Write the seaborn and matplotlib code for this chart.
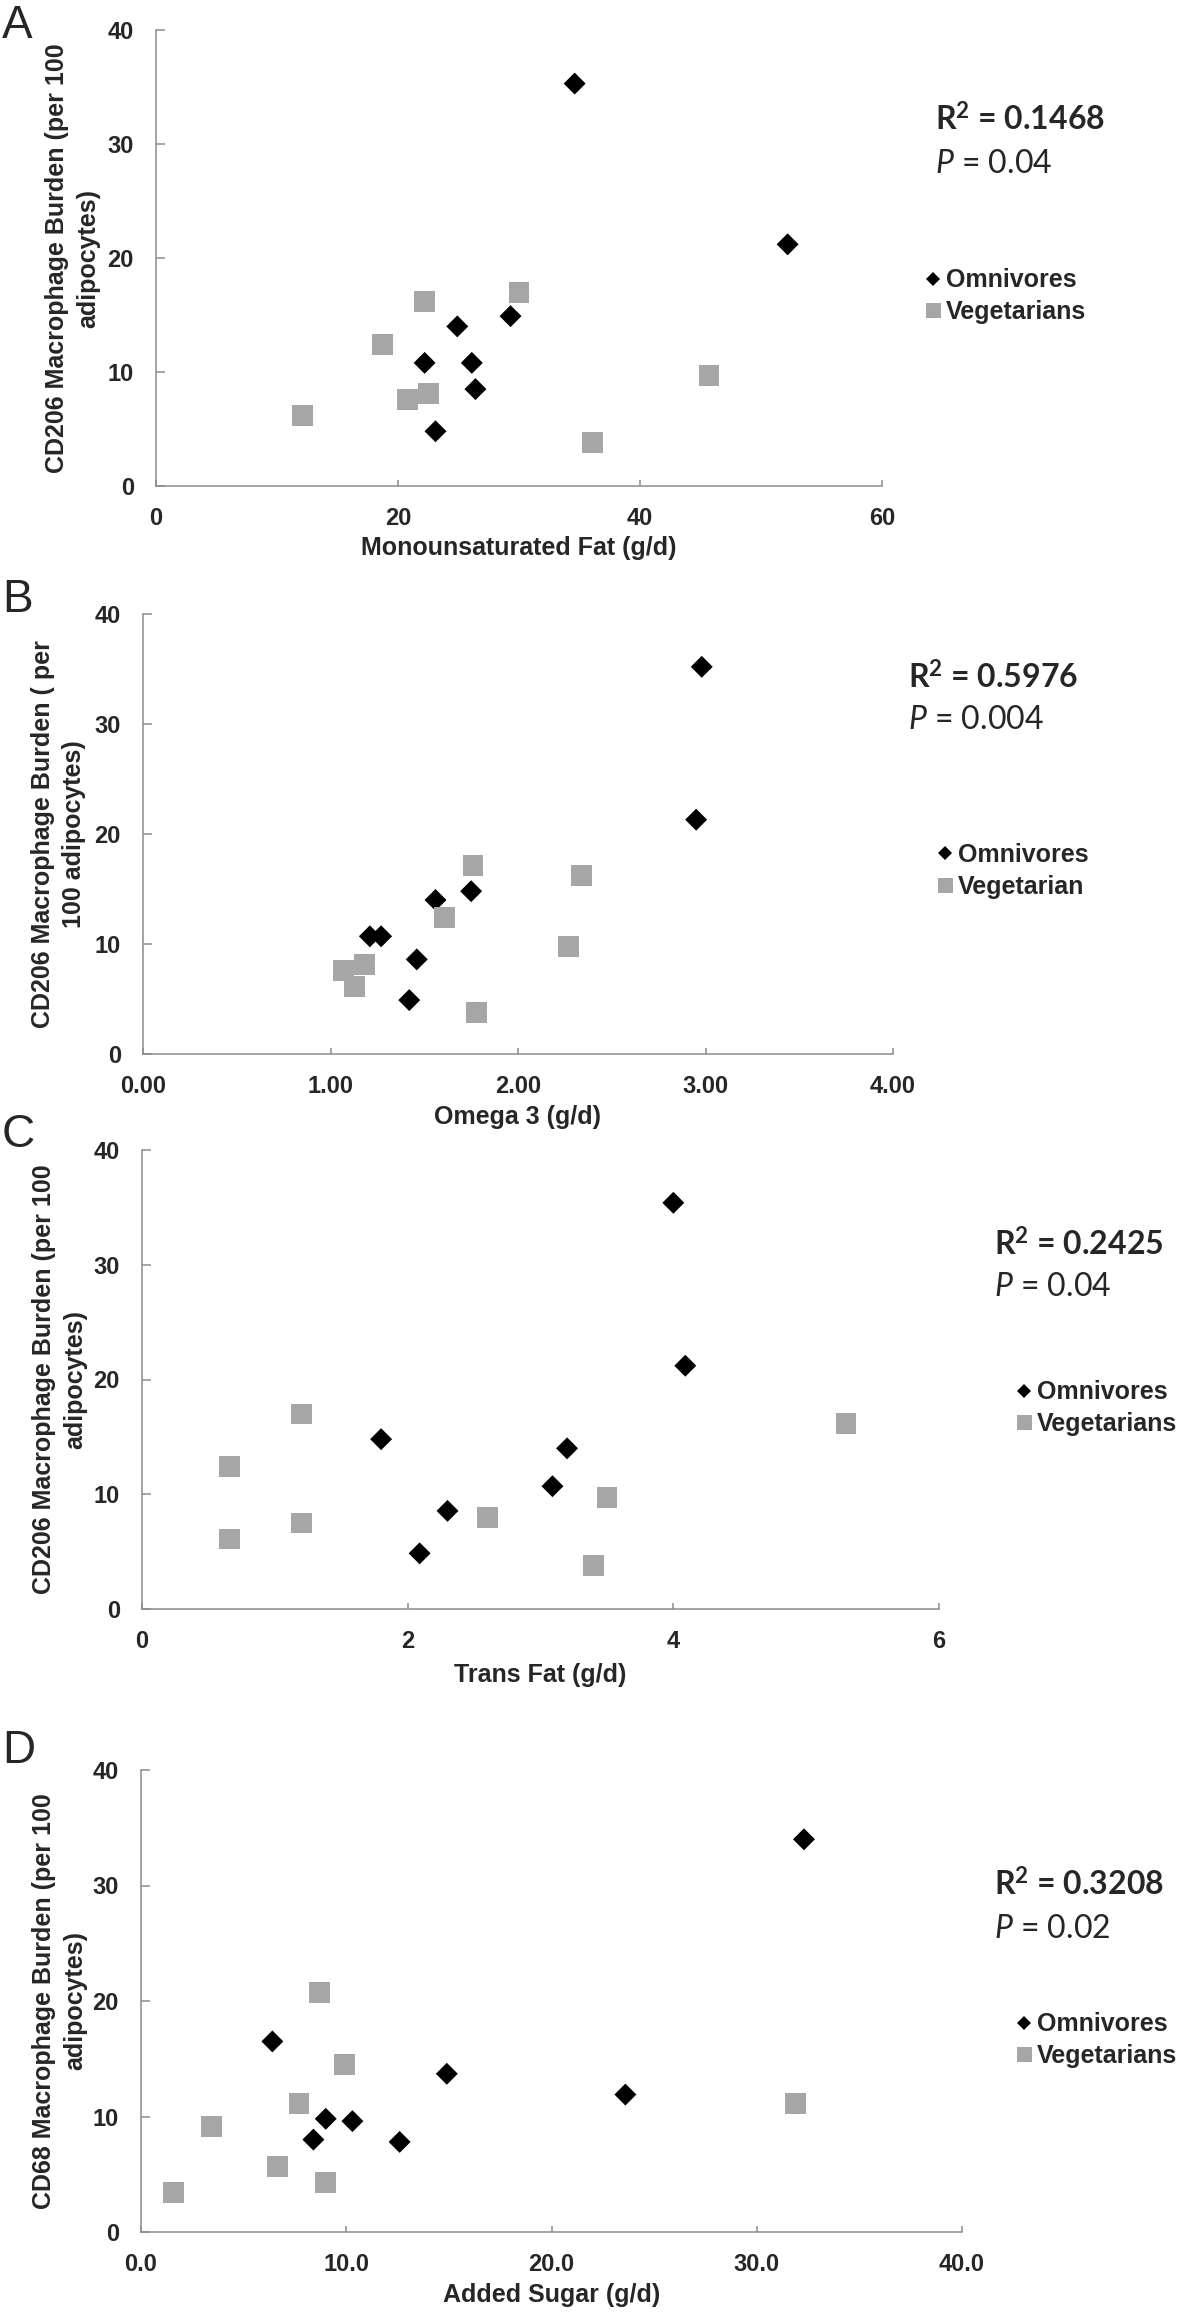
import matplotlib
matplotlib.use("Agg")
import matplotlib.pyplot as plt
import numpy as np
import pandas as pd
import seaborn as sns
from matplotlib.lines import Line2D
from matplotlib.ticker import FormatStrFormatter

# ---------------- data ----------------
groups = ["Omnivores", "Vegetarians"]

# A: Monounsaturated fat vs CD206
mufa_omni_x = [34.6, 52.2, 29.3, 24.9, 22.2, 26.1, 26.4, 23.1]
mufa_omni_y = [35.3, 21.2, 14.9, 14.0, 10.8, 10.8, 8.5, 4.8]
mufa_veg_x = [30.0, 22.2, 18.7, 45.7, 22.5, 20.8, 12.1, 36.1]
mufa_veg_y = [17.0, 16.2, 12.4, 9.7, 8.1, 7.6, 6.2, 3.8]

# B: Omega 3 vs CD206
om3_omni_x = [2.98, 2.95, 1.75, 1.56, 1.21, 1.27, 1.46, 1.42]
om3_omni_y = [35.2, 21.3, 14.8, 14.0, 10.7, 10.7, 8.6, 4.9]
om3_veg_x = [1.76, 2.34, 1.61, 2.27, 1.18, 1.07, 1.13, 1.78]
om3_veg_y = [17.1, 16.2, 12.4, 9.75, 8.1, 7.6, 6.1, 3.8]

# C: Trans fat vs CD206
trans_omni_x = [4.00, 4.09, 1.80, 3.20, 3.09, 2.30, 2.09]
trans_omni_y = [35.4, 21.2, 14.8, 14.0, 10.7, 8.55, 4.85]
trans_veg_x = [1.20, 5.30, 0.66, 3.50, 2.60, 1.20, 0.66, 3.40]
trans_veg_y = [17.0, 16.2, 12.4, 9.7, 8.0, 7.5, 6.1, 3.8]

# D: Added sugar vs CD68
sugar_omni_x = [32.3, 6.4, 14.9, 23.6, 9.0, 10.3, 8.4, 12.6]
sugar_omni_y = [34.0, 16.5, 13.7, 11.9, 9.8, 9.6, 8.0, 7.8]
sugar_veg_x = [8.7, 9.9, 7.7, 31.9, 3.45, 6.65, 9.0, 1.58]
sugar_veg_y = [20.7, 14.5, 11.1, 11.1, 9.1, 5.7, 4.3, 3.4]

letters = ["A", "B", "C", "D"]
x_labels = ["Monounsaturated Fat (g/d)", "Omega 3 (g/d)", "Trans Fat (g/d)", "Added Sugar (g/d)"]
y_labels = ["CD206 Macrophage Burden (per 100\nadipocytes)",
            "CD206 Macrophage Burden ( per\n100 adipocytes)",
            "CD206 Macrophage Burden (per 100\nadipocytes)",
            "CD68 Macrophage Burden (per 100\nadipocytes)"]
x_ticks = [[0, 20, 40, 60], [0, 1, 2, 3, 4], [0, 2, 4, 6], [0, 10, 20, 30, 40]]
x_fmt = ["%d", "%.2f", "%d", "%.1f"]
y_ticks = [0, 10, 20, 30, 40]
r2_texts = ["0.1468", "0.5976", "0.2425", "0.3208"]
p_texts = ["0.04", "0.004", "0.04", "0.02"]
legend_labels = [["Omnivores", "Vegetarians"], ["Omnivores", "Vegetarian"],
                 ["Omnivores", "Vegetarians"], ["Omnivores", "Vegetarians"]]

datasets = [
    (mufa_omni_x, mufa_omni_y, mufa_veg_x, mufa_veg_y),
    (om3_omni_x, om3_omni_y, om3_veg_x, om3_veg_y),
    (trans_omni_x, trans_omni_y, trans_veg_x, trans_veg_y),
    (sugar_omni_x, sugar_omni_y, sugar_veg_x, sugar_veg_y),
]

# ---------------- layout (pixels) ----------------
W, H = 1181, 2314
axes_px = [(156, 30, 882, 486), (143, 614, 893, 1054), (142, 1150, 939, 1609), (141, 1770, 962, 2232)]
letter_base = [38, 612, 1147, 1763]
ylab_right = [100, 86, 87, 87]
xlab_top = [536, 1105, 1663, 2283]
r2_pos = [(935, 131), (908, 689), (994, 1256), (994, 1896)]
p_pos = [(935, 173), (908, 729), (994, 1296), (994, 1938)]
leg_pos = [(925, 296), (937, 871), (1016, 1408), (1016, 2040)]

sns.set_theme(style="white")
plt.rcParams['font.family'] = ['Liberation Sans', 'DejaVu Sans']
plt.rcParams['mathtext.fontset'] = 'custom'
plt.rcParams['mathtext.rm'] = 'Lato:bold'
plt.rcParams['mathtext.bf'] = 'Lato:bold'
plt.rcParams['mathtext.it'] = 'Lato:italic'

fig = plt.figure(figsize=(W / 100, H / 100), dpi=100)
fig.patch.set_facecolor("white")


def fx(x):
    return x / W


def fy(y):
    return 1 - y / H


palette = {"Omnivores": "black", "Vegetarians": "#A6A6A6"}
markers = {"Omnivores": "D", "Vegetarians": "s"}
sizes = {"Omnivores": 125, "Vegetarians": 225}
spine_col = "#8C8C8C"

for i in range(4):
    l, t, r, b = axes_px[i]
    ax = fig.add_axes([fx(l), fy(b), (r - l) / W, (b - t) / H])
    ox, oy, vx, vy = datasets[i]
    df = pd.DataFrame({
        "x": list(ox) + list(vx),
        "y": list(oy) + list(vy),
        "Group": ["Omnivores"] * len(ox) + ["Vegetarians"] * len(vx),
    })
    sns.scatterplot(data=df, x="x", y="y", hue="Group", style="Group", size="Group",
                    palette=palette, markers=markers, sizes=sizes,
                    hue_order=["Vegetarians", "Omnivores"], linewidth=0,
                    legend=False, ax=ax, zorder=3)
    ax.set_xlim(x_ticks[i][0], x_ticks[i][-1])
    ax.set_ylim(0, 40)
    ax.set_xticks(x_ticks[i])
    ax.set_yticks(y_ticks)
    ax.xaxis.set_major_formatter(FormatStrFormatter(x_fmt[i]))
    for s in ["top", "right"]:
        ax.spines[s].set_visible(False)
    for s in ["left", "bottom"]:
        ax.spines[s].set_color(spine_col)
        ax.spines[s].set_linewidth(1.1)
    ax.tick_params(axis="y", direction="in", length=6.5, width=1.1, color=spine_col, pad=16,
                   labelsize=17, left=True)
    ax.tick_params(axis="x", direction="in", length=4.5, width=1.1, color=spine_col, pad=15,
                   labelsize=17, bottom=True)
    for lab in ax.get_xticklabels() + ax.get_yticklabels():
        lab.set_fontweight("bold")
    ax.set_xlabel(x_labels[i], fontsize=18, fontweight="bold")
    ax.set_ylabel(y_labels[i], fontsize=18, fontweight="bold", linespacing=1.35)
    ax.xaxis.set_label_coords(0.5, -(xlab_top[i] - b) / (b - t))
    ax.yaxis.set_label_coords((ylab_right[i] - l) / (r - l), 0.5)
    ax.set_facecolor("white")

    # panel letter
    fig.text(fx(2), fy(letter_base[i]), letters[i], fontsize=33, va="baseline", ha="left")

    # stats text
    rx, ry = r2_pos[i]
    fig.text(fx(rx), fy(ry), r"R$^{\mathbf{2}}$ = " + r2_texts[i], family="Lato",
             fontweight="bold", fontsize=23, va="baseline", ha="left")
    px_, py_ = p_pos[i]
    fig.text(fx(px_), fy(py_), r"$\mathit{P}$ = " + p_texts[i], family="Lato",
             fontsize=23, va="baseline", ha="left")

    # legend
    handles = [Line2D([], [], marker="D", color="black", linestyle="", markersize=7.2, markeredgewidth=0),
               Line2D([], [], marker="s", color="#A6A6A6", linestyle="", markersize=10.8, markeredgewidth=0)]
    lx, ly = leg_pos[i]
    ax.legend(handles, legend_labels[i], loc="center left", bbox_to_anchor=(fx(lx), fy(ly)),
              bbox_transform=fig.transFigure, frameon=False, borderpad=0, borderaxespad=0,
              handlelength=0.6, handletextpad=0.25, labelspacing=0.3,
              prop=dict(family="Liberation Sans", weight="bold", size=18))

fig.savefig("out.png", dpi=100, facecolor="white")
